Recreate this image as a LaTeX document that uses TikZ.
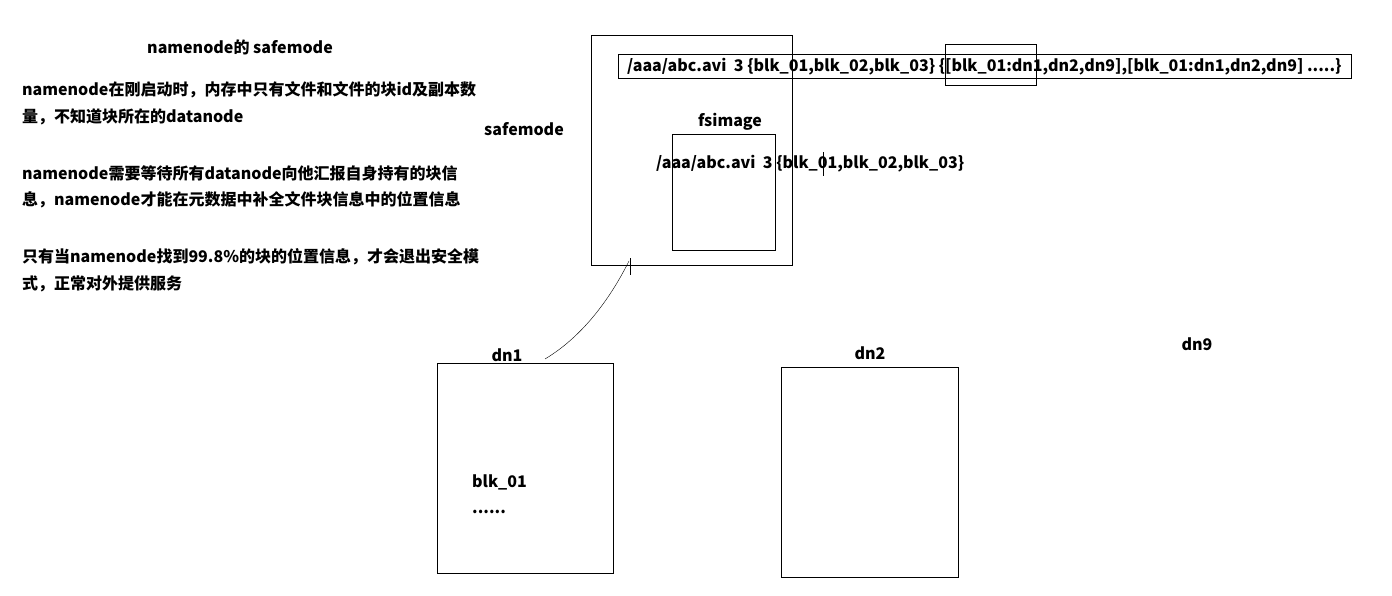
\documentclass[tikz,border=0pt]{standalone}
\usepackage{fontspec}
\setmainfont{Noto Sans CJK SC}
\usetikzlibrary{positioning}
\tikzset{
  box/.style={draw, line width=1pt, inner sep=0pt, anchor=north west},
  txt/.style={font=\bfseries\fontsize{16}{19}\selectfont, inner sep=0pt, anchor=west},
}
\begin{document}
\begin{tikzpicture}[x=1pt,y=-1pt]
      \useasboundingbox (0,0) rectangle (1392,596);
      % left notes
      \node[txt, anchor=center] (title) at (240,47) {namenode的 safemode};
      \node[txt] (p1a) at (22,90) {namenode在刚启动时，内存中只有文件和文件的块id及副本数};
      \node[txt] (p1b) at (22,117) {量，不知道块所在的datanode};
      \node[txt] (p2a) at (22,173) {namenode需要等待所有datanode向他汇报自身持有的块信};
      \node[txt] (p2b) at (22,200) {息，namenode才能在元数据中补全文件块信息中的位置信息};
      \node[txt] (p3a) at (22,257) {只有当namenode找到99.8\%的块的位置信息，才会退出安全模};
      \node[txt] (p3b) at (22,284) {式，正常对外提供服务};
      % namenode side
      \node[box, minimum width=201pt, minimum height=230pt] (safe) at (591,35) {};
      \node[txt] (safelabel) at (484,129) {safemode};
      \node[box, minimum width=733pt, minimum height=24pt] (meta) at (618,54) {};
      \node[box, minimum width=91pt, minimum height=41pt] (mark) at (945,44) {};
      \node[txt] (metatext) at (627,67) {/aaa/abc.avi\ \ 3 \{blk\_01,blk\_02,blk\_03\} \{[blk\_01:dn1,dn2,dn9],[blk\_01:dn1,dn2,dn9] .....\}};
      \node[box, minimum width=103pt, minimum height=116pt] (fs) at (672,134) {};
      \node[txt, anchor=center] (fslabel) at (730,122) {fsimage};
      \node[txt] (fstext) at (656,164) {/aaa/abc.avi\ \ 3 \{blk\_01,blk\_02,blk\_03\}};
      \coordinate (cura) at (823,152);
      \coordinate (curb) at (823,176);
      \draw[line width=1pt] (cura) -- (curb);
      % datanodes
      \node[box, minimum width=176pt, minimum height=210pt] (dn1) at (437,363) {};
      \node[txt, anchor=center] (dn1label) at (507,355) {dn1};
      \node[txt] (blk) at (472,482) {blk\_01};
      \node[txt] (dots) at (472,512) {......};
      \node[box, minimum width=177pt, minimum height=210pt] (dn2) at (781,367) {};
      \node[txt, anchor=center] (dn2label) at (870,353) {dn2};
      \node[txt, anchor=center] (dn9label) at (1197,344) {dn9};
      % report from dn1
      \coordinate (from) at (545,359);
      \coordinate (hook) at (629,261);
      \coordinate (ticka) at (630,258);
      \coordinate (tickb) at (630,275);
      \draw (from) .. controls (585,335) and (612,295) .. (hook);
      \draw[line width=1pt] (ticka) -- (tickb);
    \end{tikzpicture}
\end{document}
